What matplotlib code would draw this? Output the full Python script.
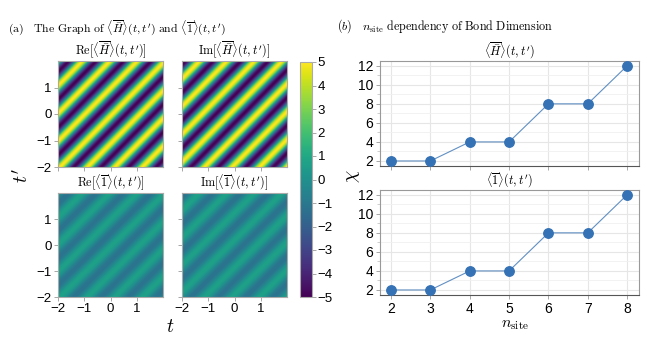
import matplotlib
matplotlib.use("Agg")
import matplotlib.pyplot as plt
import numpy as np

plt.rcParams['font.family'] = ['Liberation Sans', 'DejaVu Sans']
plt.rcParams['mathtext.fontset'] = 'cm'
plt.rcParams['axes.unicode_minus'] = True

# heatmap grid and stripe parameters (function of t - t')
t_vals = np.linspace(-2, 2, 100, endpoint=False)
omega = 6.0
shift = 0.97
amp_H = 5.0
amp_1 = 0.95
offset_1 = -0.25

# bond dimension data
n_site = [2, 3, 4, 5, 6, 7, 8]
chi_H = [2, 2, 4, 4, 8, 8, 12]
chi_1 = [2, 2, 4, 4, 8, 8, 12]

T, Tp = np.meshgrid(t_vals, t_vals)
theta = omega * (T - Tp + shift)
fields = [
    (amp_H * np.cos(theta), r"$\mathrm{Re}[\langle\overline{\bar{H}}\rangle(t,t')]$"),
    (-amp_H * np.sin(theta), r"$\mathrm{Im}[\langle\overline{\bar{H}}\rangle(t,t')]$"),
    (offset_1 + amp_1 * np.cos(theta), r"$\mathrm{Re}[\langle\overline{1}\rangle(t,t')]$"),
    (offset_1 - amp_1 * np.sin(theta), r"$\mathrm{Im}[\langle\overline{1}\rangle(t,t')]$"),
]

W, H = 665, 341
fig = plt.figure(figsize=(W / 100, H / 100), dpi=100)

def box(x0, y0, x1, y1):
    return [x0 / W, 1 - y1 / H, (x1 - x0) / W, (y1 - y0) / H]

heat_boxes = [box(58, 61, 163, 167), box(182, 61, 287, 167),
              box(58, 193, 163, 297), box(182, 193, 287, 297)]
dx = t_vals[1] - t_vals[0]
ext = [t_vals[0], t_vals[-1] + dx, t_vals[0], t_vals[-1] + dx]
for i, (z, title) in enumerate(fields):
    ax = fig.add_axes(heat_boxes[i])
    im = ax.imshow(z, origin='lower', extent=ext, cmap='viridis', vmin=-5, vmax=5,
                   aspect='auto', interpolation='bilinear')
    ax.set_title(title, fontsize=8.8, pad=2)
    ax.set_xticks([-2, -1, 0, 1])
    ax.set_yticks([-2, -1, 0, 1])
    ax.tick_params(labelsize=9.5, length=3, width=0.6, color='#999999', pad=1.5)
    if i < 2:
        ax.set_xticklabels([])
    if i % 2 == 1:
        ax.set_yticklabels([])
    for s in ax.spines.values():
        s.set_color('#aaaaaa')
        s.set_linewidth(0.8)

cax = fig.add_axes(box(300, 62, 312, 297))
cb = fig.colorbar(im, cax=cax, ticks=range(-5, 6))
cb.ax.tick_params(labelsize=9.5, length=3, width=0.6, color='#999999', pad=1)
cb.outline.set_edgecolor('#aaaaaa')
cb.outline.set_linewidth(0.8)

fig.text(22 / W, 1 - 176 / H, r"$t'$", fontsize=14, rotation=90, ha='center', va='center')
fig.text(170 / W, 1 - 327 / H, r"$t$", fontsize=14, ha='center', va='center')
fig.text(8 / W, 1 - 28 / H,
         r"$\mathrm{(a)\quad The\ Graph\ of\ }\langle\overline{\bar{H}}\rangle(t,t')"
         r"\mathrm{\ and\ }\langle\overline{1}\rangle(t,t')$",
         fontsize=8.5, ha='left', va='center')

# right column
line_boxes = [box(380, 61, 639, 166), box(380, 190, 639, 295)]
line_data = [(chi_H, r"$\langle\overline{\bar{H}}\rangle(t,t')$"),
             (chi_1, r"$\langle\overline{1}\rangle(t,t')$")]
for j, (chi, title) in enumerate(line_data):
    ax = fig.add_axes(line_boxes[j])
    ax.plot(n_site, chi, '-', color='#3a74b4', lw=0.8, alpha=0.8, zorder=3)
    ax.plot(n_site, chi, 'o', color='#3572b5', ms=6.8, zorder=4)
    ax.set_xlim(1.72, 8.3)
    ax.set_ylim(1.47, 12.5)
    ax.set_xticks(n_site)
    ax.set_yticks([2, 4, 6, 8, 10, 12])
    ax.set_yticks(range(3, 13, 2), minor=True)
    ax.grid(True, which='major', color='#e6e6e6', lw=0.8)
    ax.grid(True, which='minor', axis='y', color='#f0f0f0', lw=0.6)
    ax.set_axisbelow(True)
    ax.set_title(title, fontsize=8.8, pad=2)
    ax.tick_params(labelsize=10, length=3, width=0.6, color='#999999', pad=2)
    ax.tick_params(which='minor', length=2, width=0.5, color='#bbbbbb')
    if j == 0:
        ax.set_xticklabels([])
    for name, s in ax.spines.items():
        s.set_color('#555555' if name == 'bottom' else '#999999')
        s.set_linewidth(0.8)

fig.text(353 / W, 1 - 176 / H, r"$\chi$", fontsize=14, rotation=90, ha='center', va='center')
fig.text(515 / W, 1 - 324 / H, r"$n_{\mathrm{site}}$", fontsize=11.5, ha='center', va='center')
fig.text(337 / W, 1 - 26 / H,
         r"$(b)\quad n_{\mathrm{site}}\mathrm{\ dependency\ of\ Bond\ Dimension}$",
         fontsize=8.7, ha='left', va='center')

fig.savefig('out.png', dpi=100)
